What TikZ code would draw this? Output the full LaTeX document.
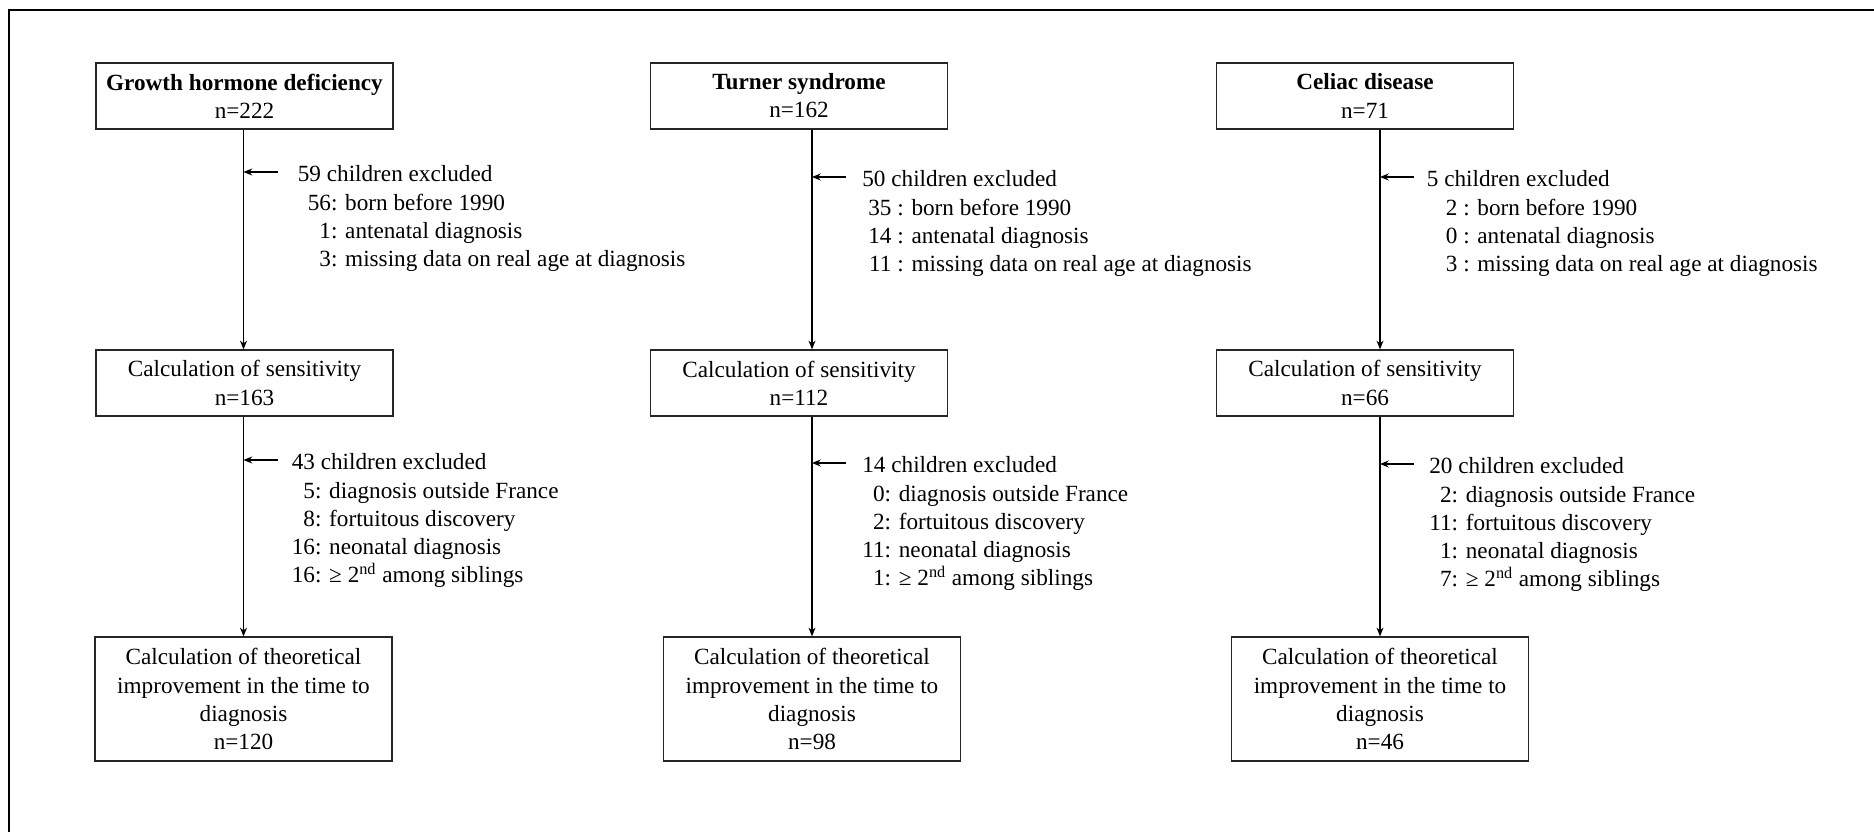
\documentclass[tikz,border=0pt]{standalone}
\usepackage{fontspec}
\setmainfont{Liberation Serif}
\usetikzlibrary{arrows.meta}
\newcommand{\excl}[3]{\begin{tabular}[t]{@{\hspace{#1}}r@{}l@{}}\multicolumn{2}{@{}l@{}}{#2}\\#3\end{tabular}}

\begin{document}
\begin{tikzpicture}[node distance=5.74cm,
    every node/.style={font=\fontsize{13.2}{16}\selectfont},
    box/.style={draw=black!85, line width=0.7pt, minimum width=5.94cm, minimum height=1.32cm, align=center, inner sep=2pt},
    bigbox/.style={box, minimum height=2.48cm},
    note/.style={anchor=base west, inner sep=0pt},
    flow/.style={-{Stealth[length=5pt,width=4pt]}, line width=0.6pt}]
	\useasboundingbox (0,0) rectangle (37.48,-16.64);
	\draw[line width=1.6pt] (0.18,-16.64) -- (0.18,-0.2) -- (37.48,-0.2);

	% growth hormone deficiency
	\node[box] (gh) at (4.89,-1.92) {\textbf{Growth hormone deficiency}\\n=222};
	\node[box] (gh-s) [below of=gh] {Calculation of sensitivity\\n=163};
	\node[bigbox] (gh-t) [below of=gh-s, node distance=6.32cm, xshift=-0.02cm] {Calculation of theoretical\\improvement in the time to\\diagnosis\\n=120};

	% turner syndrome
	\node[box] (ts) at (15.98,-1.92) {\textbf{Turner syndrome}\\n=162};
	\node[box] (ts-s) [below of=ts] {Calculation of sensitivity\\n=112};
	\node[bigbox] (ts-t) [below of=ts-s, node distance=6.32cm, xshift=0.26cm] {Calculation of theoretical\\improvement in the time to\\diagnosis\\n=98};

	% celiac disease
	\node[box] (cd) at (27.30,-1.92) {\textbf{Celiac disease}\\n=71};
	\node[box] (cd-s) [below of=cd] {Calculation of sensitivity\\n=66};
	\node[bigbox] (cd-t) [below of=cd-s, node distance=6.32cm, xshift=0.30cm] {Calculation of theoretical\\improvement in the time to\\diagnosis\\n=46};

	\draw[flow] (gh.south -| gh-t.north) -- (gh-s.north -| gh-t.north);
	\draw[flow] (gh-s.south -| gh-t.north) -- (gh-t.north);
	\draw[flow] (ts.south -| ts-t.north) -- (ts-s.north -| ts-t.north);
	\draw[flow] (ts-s.south -| ts-t.north) -- (ts-t.north);
	\draw[flow] (cd.south -| cd-t.north) -- (cd-s.north -| cd-t.north);
	\draw[flow] (cd-s.south -| cd-t.north) -- (cd-t.north);

	% exclusions
	\coordinate (gh-a) at (4.87,-3.44);
	\coordinate (gh-b) at (4.87,-9.20);
	\coordinate (ts-a) at (16.24,-3.54);
	\coordinate (ts-b) at (16.24,-9.26);
	\coordinate (cd-a) at (27.60,-3.54);
	\coordinate (cd-b) at (27.60,-9.28);
	\foreach \c in {gh-a,gh-b,ts-a,ts-b,cd-a,cd-b}{
		\coordinate (\c-e) at ([xshift=0.68cm]\c);
		\draw[flow] (\c-e) -- (\c);
	}

	\node[note] (gh-x) at ([xshift=1.08cm,yshift=-0.2cm]gh-a) {\excl{0.2cm}{59 children excluded}{56&: born before 1990\\1&: antenatal diagnosis\\3&: missing data on real age at diagnosis}};
	\node[note] (gh-y) at ([xshift=0.96cm,yshift=-0.2cm]gh-b) {\excl{0cm}{43 children excluded}{5&: diagnosis outside France\\8&: fortuitous discovery\\16&: neonatal diagnosis\\16&: ≥ 2\textsuperscript{nd} among siblings}};
	\node[note] (ts-x) at ([xshift=1.0cm,yshift=-0.2cm]ts-a) {\excl{0.12cm}{50 children excluded}{35&\ : born before 1990\\14&\ : antenatal diagnosis\\11&\ : missing data on real age at diagnosis}};
	\node[note] (ts-y) at ([xshift=1.0cm,yshift=-0.2cm]ts-b) {\excl{0cm}{14 children excluded}{0&: diagnosis outside France\\2&: fortuitous discovery\\11&: neonatal diagnosis\\1&: ≥ 2\textsuperscript{nd} among siblings}};
	\node[note] (cd-x) at ([xshift=0.93cm,yshift=-0.2cm]cd-a) {\excl{0.38cm}{5 children excluded}{2&\ : born before 1990\\0&\ : antenatal diagnosis\\3&\ : missing data on real age at diagnosis}};
	\node[note] (cd-y) at ([xshift=0.98cm,yshift=-0.2cm]cd-b) {\excl{0cm}{20 children excluded}{2&: diagnosis outside France\\11&: fortuitous discovery\\1&: neonatal diagnosis\\7&: ≥ 2\textsuperscript{nd} among siblings}};
\end{tikzpicture}
\end{document}
